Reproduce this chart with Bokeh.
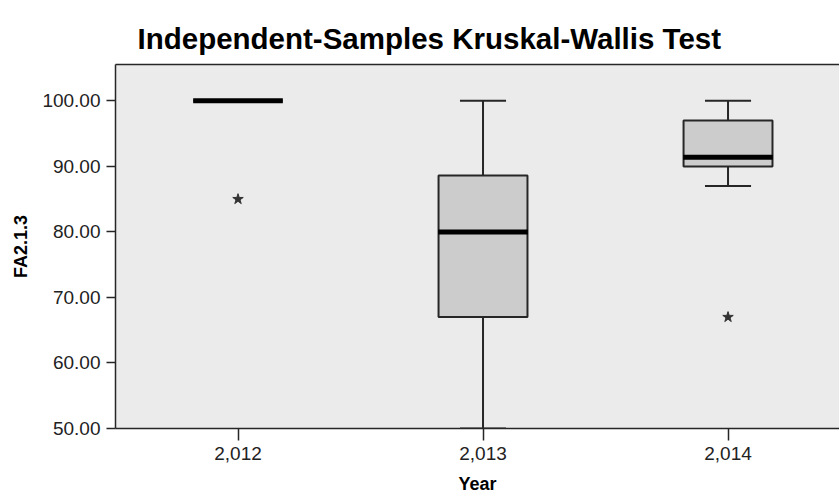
from bokeh.plotting import figure
from bokeh.models import (ColumnDataSource, FixedTicker, NumeralTickFormatter,
                          LinearAxis, Range1d, Title)
from bokeh.embed import file_html
from bokeh.resources import INLINE

# ---- data ----
years = [2012, 2013, 2014]
q1 = [100.0, 67.0, 90.0]
median = [100.0, 80.0, 91.4]
q3 = [100.0, 88.6, 97.0]
lower = [100.0, 50.0, 87.0]
upper = [100.0, 100.0, 100.0]
outlier_years = [2012, 2014]
outlier_values = [85.0, 67.0]
y_ticks = [50, 60, 70, 80, 90, 100]

BOX_W = 0.363
CAP_W = 0.188
MED_W = 0.366
FONT = "Liberation Sans"
DARK = "#262626"

src = ColumnDataSource(dict(
    x=years, q1=q1, med=median, q3=q3, lo=lower, hi=upper,
    bl=[y - BOX_W / 2 for y in years], br=[y + BOX_W / 2 for y in years],
    cl=[y - CAP_W / 2 for y in years], cr=[y + CAP_W / 2 for y in years],
    ml=[y - MED_W / 2 for y in years], mr=[y + MED_W / 2 for y in years],
))
out_src = ColumnDataSource(dict(x=outlier_years, y=outlier_values))

p = figure(width=839, height=496, output_backend="svg", toolbar_location=None,
           x_range=Range1d(2011.5, 2014.455), y_range=Range1d(50, 105.55),
           min_border_left=115, min_border_right=0, min_border_top=64,
           min_border_bottom=67)
p.background_fill_color = "#ebebeb"
p.border_fill_color = "white"
p.outline_line_color = None
p.xgrid.visible = False
p.ygrid.visible = False

p.title = Title(text="Independent-Samples Kruskal-Wallis Test", align="left",
                offset=22, standoff=19, text_font=FONT, text_font_size="29.5px",
                text_font_style="bold", text_color="black")

# whiskers
p.segment(x0="x", y0="q3", x1="x", y1="hi", source=src, line_color=DARK, line_width=2)
p.segment(x0="x", y0="lo", x1="x", y1="q1", source=src, line_color=DARK, line_width=2)
p.segment(x0="cl", y0="hi", x1="cr", y1="hi", source=src, line_color=DARK, line_width=2)
p.segment(x0="cl", y0="lo", x1="cr", y1="lo", source=src, line_color=DARK, line_width=2)
# boxes
p.quad(left="bl", right="br", bottom="q1", top="q3", source=src,
       fill_color="#cccccc", line_color=DARK, line_width=2)
# medians
p.segment(x0="ml", y0="med", x1="mr", y1="med", source=src, line_color="black",
          line_width=5)
# outliers
p.scatter(x="x", y="y", source=out_src, marker="star", size=11,
          fill_color="#333333", line_color="#333333")

# axes
for ax in (p.xaxis[0], p.yaxis[0]):
    ax.axis_line_color = DARK
    ax.axis_line_width = 1.5
    ax.major_tick_line_color = DARK
    ax.major_tick_line_width = 1.5
    ax.minor_tick_line_color = None
    ax.major_tick_in = 0
    ax.major_label_text_font = FONT
    ax.major_label_text_font_size = "19px"
    ax.major_label_text_color = "#222222"
    ax.axis_label_text_font = FONT
    ax.axis_label_text_font_size = "18px"
    ax.axis_label_text_font_style = "bold"
    ax.axis_label_text_color = "black"

p.xaxis.ticker = FixedTicker(ticks=years)
p.xaxis.formatter = NumeralTickFormatter(format="0,0")
p.xaxis.major_tick_out = 12
p.xaxis.major_label_standoff = 6
p.xaxis.axis_label = "Year"
p.xaxis.axis_label_standoff = 11

p.yaxis.ticker = FixedTicker(ticks=y_ticks)
p.yaxis.formatter = NumeralTickFormatter(format="0.00")
p.yaxis.major_tick_out = 9
p.yaxis.major_label_standoff = 6
p.yaxis.axis_label = "FA2.1.3"
p.yaxis.axis_label_standoff = 8

top = LinearAxis(ticker=FixedTicker(ticks=[]), axis_line_color=DARK,
                 axis_line_width=1.5, major_tick_line_color=None,
                 minor_tick_line_color=None, major_label_text_font_size="0px")
p.add_layout(top, "above")

open("out.html", "w").write(file_html(p, INLINE))
